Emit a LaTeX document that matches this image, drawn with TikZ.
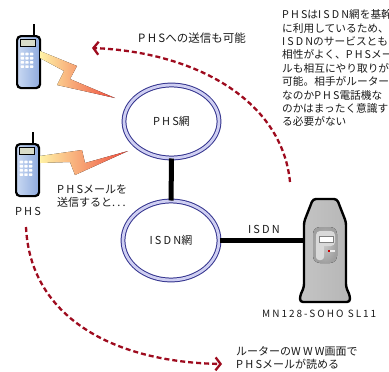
\documentclass[tikz,border=0pt]{standalone}
\usepackage{fontspec}
\setmainfont{Noto Sans CJK JP}
\newfontfamily\latfont[LetterSpace=20]{Noto Sans CJK JP}
\newcommand{\lat}[1]{{\latfont #1}}
\usetikzlibrary{arrows.meta, shapes.geometric}
\definecolor{arcRed}{HTML}{9E0B1E}
\definecolor{ringNavy}{HTML}{34348E}
\definecolor{ringLav}{HTML}{CFCFF2}
\definecolor{inkDark}{HTML}{1A1A1A}
\definecolor{phoneLight}{HTML}{C9D9F3}
\definecolor{phoneBlue}{HTML}{8EAADD}
\definecolor{screenGray}{HTML}{D9DCC9}
\definecolor{boltYellow}{HTML}{FFF2A6}
\definecolor{boltOrange}{HTML}{F8A447}
\definecolor{boltRed}{HTML}{EE4A3C}
\definecolor{routerGray}{HTML}{C4C4C4}

\begin{document}
\begin{tikzpicture}[x=1pt,y=-1pt,
  label/.style={inner sep=0,text=inkDark,font=\fontsize{11}{13}\selectfont},
  netring/.style={ellipse,draw=ringNavy,line width=1pt,double=ringLav,double distance=2.8pt,inner sep=0,label},
  link/.style={line width=5pt,black},
  dasharc/.style={arcRed,line width=2.3pt,dash pattern=on 5pt off 3pt,-{Straight Barb[length=5pt,width=13pt]}},
  bolt/.style={left color=boltYellow,middle color=boltOrange,right color=boltRed,draw=none}]
\useasboundingbox (0,0) rectangle (389,372);
\clip (0,0) rectangle (389,372);

% handset: name, top left corner of the body
\newcommand{\phone}[3]{%
  \begin{scope}[shift={(#2,#3)}]
  \draw[line width=2pt] (18.3,0) -- (18.3,-11);
  \node[anchor=north west,minimum width=23pt,minimum height=52pt,inner sep=0,rounded corners=4pt,
        draw,line width=2.2pt,left color=phoneLight,right color=phoneBlue] (#1) at (0,0) {};
  \draw[fill=screenGray,line width=0.8pt] (4,4.3) rectangle (19,11);
  \foreach \c in {0,1,2}
    \foreach \r in {0,...,3}
      \fill[white,rounded corners=0.6pt] (4.7+\c*4.6,17.7+\r*4.2) rectangle ++(3.4,2.6);
  \end{scope}
}
\phone{phoneTop}{16}{35}
\phone{phoneLow}{15}{143}
\node[label] (phsLabel) at (28,211) {\lat{PHS}};

% radio bolts
\fill[bolt] (40,51) -- (77,66) -- (70,79) -- (115,98) -- (57,85) -- (64,71) -- (40,58) -- cycle;
\fill[bolt] (40,156) -- (82,150) -- (85,163) -- (128,151) -- (75,175) -- (70,162) -- (40,163) -- cycle;

% networks
\node[netring,minimum width=95pt,minimum height=73pt] (phsNet) at (171.5,121.5) {\lat{PHS}網};
\node[netring,minimum width=96pt,minimum height=79pt] (isdnNet) at (171,240.5) {\lat{ISDN}網};
\node[inner sep=0,minimum width=42pt,minimum height=103pt] (router) at (325,250.5) {};
\draw[link] (phsNet) -- (isdnNet);
\draw[link,line width=4.5pt] (isdnNet) -- (isdnNet -| router.west);
\node[label] (isdnLabel) at (264,229) {\lat{ISDN}};

% router box
\draw[line width=2.4pt,rounded corners=3pt,left color=routerGray,middle color=white,right color=routerGray!80!gray]
  (313,199) -- (337,199) -- (346,222) -- (346,287) -- (350,296) -- (350,302)
  -- (300,302) -- (300,296) -- (304,287) -- (304,222) -- cycle;
\fill[rounded corners=7pt,inner color=gray!45,outer color=gray!75] (313,227) rectangle (337,263);
\fill[gray!30,rounded corners=4pt] (316,231) rectangle (335,246);
\fill[gray!30,rounded corners=3pt] (316,240) rectangle (324,260);
\draw[gray,fill=white,line width=0.4pt] (319,236) rectangle (333,242);
\fill[red!80!black] (328,250) rectangle (329.5,251.5);
\fill[gray!15] (330,250) rectangle (335,252);
\node[anchor=west,label,font=\fontsize{10}{12}\selectfont] (routerName) at (262,314) {\lat{MN128-SOHO SL11}};

% mail paths
\coordinate (sendFrom) at (290,182);
\coordinate (sendTo) at (92,48);
\draw[dasharc] (sendFrom) .. controls (282,100) and (195,52) .. (sendTo);
\node[anchor=west,label,font=\fontsize{11.5}{13}\selectfont] (sendText) at (138,38) {\lat{PHS}への送信も可能};
\node[anchor=west,label,align=left] (mailText) at (57,196.5) {\lat{PHS}メールを\\送信すると\lat{...}};
\coordinate (readFrom) at (26,227);
\coordinate (readTo) at (222,364);
\draw[dasharc] (readFrom) .. controls (30,315) and (110,362) .. (readTo);
\node[anchor=west,label,align=left] (readText) at (236,357.5) {ルーターの\lat{WWW}画面で\\\lat{PHS}メールが読める};

% note at the top right
\node[anchor=north west,label,align=left,font=\fontsize{10.7}{13.4}\selectfont] (note) at (282,9.5)
  {\lat{PHS}は\lat{ISDN}網を基幹\\に利用しているため、\\\lat{ISDN}のサービスとも\\相性がよく、\lat{PHS}メー\\ルも相互にやり取りが\\可能。相手がルーター\\なのか\lat{PHS}電話機な\\のかはまったく意識す\\る必要がない};
\end{tikzpicture}
\end{document}
